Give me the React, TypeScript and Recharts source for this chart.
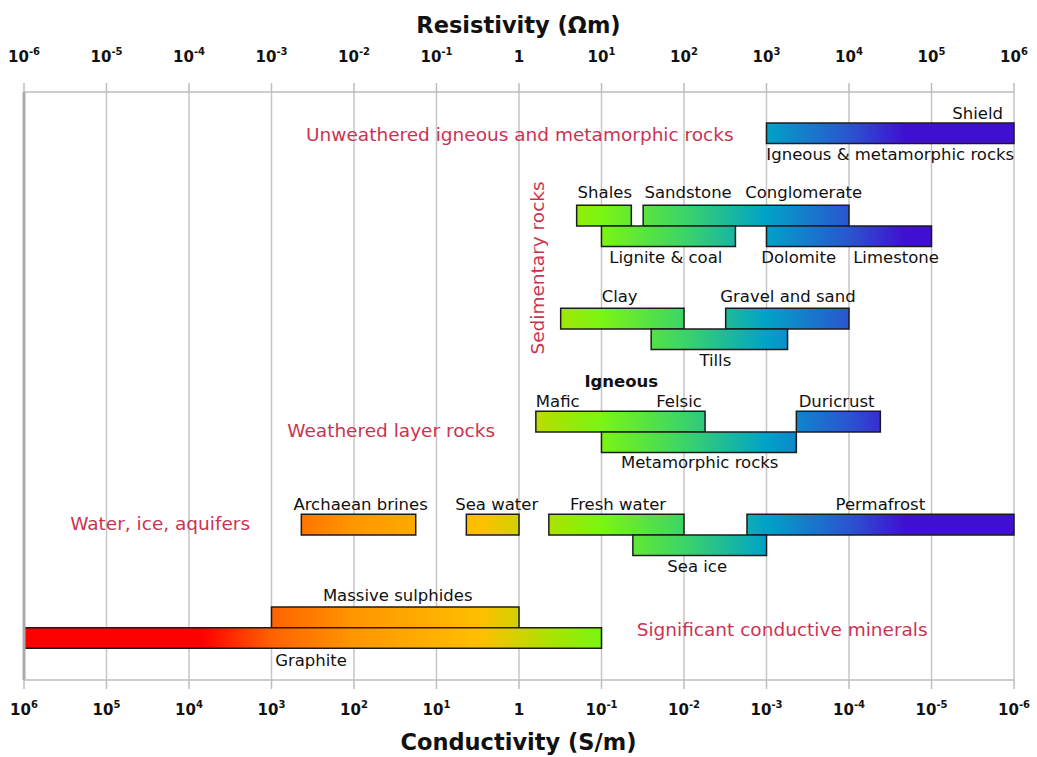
import React from 'react';
import {
  ScatterChart,
  Scatter,
  XAxis,
  YAxis,
  CartesianGrid,
  ReferenceArea,
  ReferenceLine,
} from 'recharts';

// decade exponents of the resistivity axis (Ωm)
const TICKS = [-6, -5, -4, -3, -2, -1, 0, 1, 2, 3, 4, 5, 6];

// resistivity ranges (Ωm), row = which lane of the figure the bar sits in
const ROCK_NAMES = [
  'Shield', 'Shales', 'Sandstone/Conglomerate', 'Lignite & coal', 'Dolomite/Limestone',
  'Clay', 'Gravel and sand', 'Tills', 'Mafic/Felsic', 'Duricrust', 'Metamorphic rocks',
  'Archaean brines', 'Sea water', 'Fresh water', 'Permafrost', 'Sea ice',
  'Massive sulphides', 'Graphite',
];
const RHO_MIN = [1e3, 5, 32, 10, 1e3, 3.2, 320, 40, 1.6, 2300, 10, 0.0023, 0.23, 2.3, 580, 24, 0.001, 1e-6];
const RHO_MAX = [1e6, 23, 1e4, 420, 1e5, 100, 1e4, 1800, 180, 24000, 2300, 0.056, 1, 100, 1e6, 1000, 1, 10];
const ROCK_ROW = [0, 1, 1, 2, 2, 3, 3, 4, 5, 5, 6, 7, 7, 7, 7, 8, 9, 10];

// top of each lane on the hidden y axis (one unit = one bar height)
const ROW_TOP = [1.5, 5.5, 6.5, 10.5, 11.5, 15.5, 16.5, 20.5, 21.5, 25, 26];

// text labels: log10(Ωm) position, lane position, kind
const LABEL_TEXT = [
  'Shield', 'Igneous & metamorphic rocks', 'Shales', 'Sandstone', 'Conglomerate',
  'Lignite & coal', 'Dolomite', 'Limestone', 'Clay', 'Gravel and sand', 'Tills',
  'Igneous', 'Mafic', 'Felsic', 'Duricrust', 'Metamorphic rocks',
  'Archaean brines', 'Sea water', 'Fresh water', 'Permafrost', 'Sea ice',
  'Massive sulphides', 'Graphite',
  'Unweathered igneous and metamorphic rocks', 'Sedimentary rocks',
  'Weathered layer rocks', 'Water, ice, aquifers', 'Significant conductive minerals',
];
const LABEL_X = [
  5.56, 4.5, 1.04, 2.05, 3.45, 1.78, 3.39, 4.57, 1.22, 3.26, 2.38,
  1.24, 0.47, 1.94, 3.85, 2.19, -1.92, -0.27, 1.2, 4.38, 2.16, -1.47, -2.52,
  0.01, 0.22, -1.55, -4.35, 3.19,
];
const LABEL_Y = [
  1.02, 3.01, 4.9, 4.9, 4.9, 8.01, 8.01, 8.01, 9.95, 9.95, 13.01,
  14.03, 15.0, 15.0, 15.0, 17.96, 20.0, 20.0, 20.0, 20.0, 23.01, 24.42, 27.57,
  2.04, 8.54, 16.41, 20.92, 26.07,
];
const LABEL_KIND = [
  'name', 'name', 'name', 'name', 'name', 'name', 'name', 'name', 'name', 'name', 'name',
  'bold', 'name', 'name', 'name', 'name', 'name', 'name', 'name', 'name', 'name', 'name', 'name',
  'group', 'vertical', 'group', 'group', 'group',
];

const GRADIENT_STOPS: [number, string][] = [
  [0, '#ff0000'],
  [0.18, '#ff0000'],
  [0.25, '#ff6200'],
  [0.333, '#ff9600'],
  [0.46, '#ffbf00'],
  [0.5, '#d2d200'],
  [0.53, '#ace200'],
  [0.583, '#7af512'],
  [0.667, '#3cd468'],
  [0.75, '#00a2c8'],
  [0.833, '#2a55d0'],
  [0.89, '#4010d0'],
  [1, '#4010d0'],
];

const bars = ROCK_NAMES.map((name, i) => ({
  name,
  x1: Math.log10(RHO_MIN[i]),
  x2: Math.log10(RHO_MAX[i]),
  y1: ROW_TOP[ROCK_ROW[i]],
  y2: ROW_TOP[ROCK_ROW[i]] + 1,
}));

const labels = LABEL_TEXT.map((text, i) => ({
  text,
  x: LABEL_X[i],
  y: LABEL_Y[i],
  kind: LABEL_KIND[i],
}));

const FONT = '"DejaVu Sans", sans-serif';
const RED = '#cc3352';

const W = 1037;
const H = 757;
const LEFT = 24;
const RIGHT = 23;

function LabelShape(props: any) {
  const { cx, cy, payload } = props;
  if (cx == null || cy == null) return null;
  const kind = payload.kind;
  if (kind === 'vertical') {
    return (
      <text
        x={cx}
        y={cy}
        transform={`rotate(-90 ${cx} ${cy})`}
        textAnchor="middle"
        dominantBaseline="central"
        fontFamily={FONT}
        fontSize={18.5}
        fill={RED}
      >
        {payload.text}
      </text>
    );
  }
  const isGroup = kind === 'group';
  return (
    <text
      x={cx}
      y={cy}
      textAnchor="middle"
      dominantBaseline="central"
      fontFamily={FONT}
      fontSize={isGroup ? 18.5 : 16.5}
      fontWeight={kind === 'bold' ? 'bold' : 'normal'}
      fill={isGroup ? RED : '#111'}
    >
      {payload.text}
    </text>
  );
}

function makeTick(side: 'top' | 'bottom') {
  return function Tick(props: any) {
    const { x, y, payload } = props;
    const e = side === 'top' ? payload.value : -payload.value;
    const dy = side === 'top' ? -19 : 24;
    return (
      <text x={x} y={y + dy} textAnchor="middle" fontFamily={FONT} fontWeight="bold" fontSize={15} fill="#111">
        {e === 0 ? (
          '1'
        ) : (
          <>
            <tspan>10</tspan>
            <tspan dy={-7} fontSize={10}>
              {e}
            </tspan>
          </>
        )}
      </text>
    );
  };
}

const TopTick = makeTick('top');
const BottomTick = makeTick('bottom');

const titleStyle: React.CSSProperties = {
  position: 'absolute',
  left: 0,
  width: W,
  textAlign: 'center',
  fontFamily: FONT,
  fontWeight: 'bold',
  fontSize: 22.5,
  lineHeight: '22px',
  color: '#111',
};

export default function App() {
  return (
    <div style={{ position: 'absolute', left: 0, top: 0, width: W, height: H, background: '#fff' }}>
      <div style={{ ...titleStyle, top: 14 }}>Resistivity (Ωm)</div>
      <div style={{ ...titleStyle, top: 731 }}>Conductivity (S/m)</div>
      <ScatterChart width={W} height={H} margin={{ top: 0, right: RIGHT, bottom: 0, left: LEFT }}>
        <defs>
          <linearGradient id="rhoGrad" gradientUnits="userSpaceOnUse" x1={LEFT} y1={0} x2={W - RIGHT} y2={0}>
            {GRADIENT_STOPS.map(([o, c]) => (
              <stop key={o} offset={o} stopColor={c} />
            ))}
          </linearGradient>
        </defs>
        <CartesianGrid xAxisId="top" yAxisId="y" horizontal={false} stroke="#c6c6c6" strokeWidth={1.5} />
        <XAxis
          xAxisId="top"
          orientation="top"
          type="number"
          dataKey="x"
          domain={[-6, 6]}
          ticks={TICKS}
          interval={0}
          allowDataOverflow
          height={92}
          axisLine={{ stroke: '#bdbdbd', strokeWidth: 1.5 }}
          tickLine={{ stroke: '#bdbdbd', strokeWidth: 1.5 }}
          tickSize={9}
          tick={<TopTick />}
        />
        <XAxis
          xAxisId="bottom"
          orientation="bottom"
          type="number"
          dataKey="x"
          domain={[-6, 6]}
          ticks={TICKS}
          interval={0}
          allowDataOverflow
          height={77}
          axisLine={{ stroke: '#bdbdbd', strokeWidth: 1.5 }}
          tickLine={{ stroke: '#bdbdbd', strokeWidth: 1.5 }}
          tickSize={9}
          tick={<BottomTick />}
        />
        <YAxis yAxisId="y" type="number" dataKey="y" domain={[0, 28.54]} reversed hide allowDataOverflow />
        <ReferenceLine xAxisId="top" yAxisId="y" x={-6} stroke="#aaaaaa" strokeWidth={3} />
        {bars.map((b) => (
          <ReferenceArea
            key={b.name}
            xAxisId="top"
            yAxisId="y"
            x1={b.x1}
            x2={b.x2}
            y1={b.y1}
            y2={b.y2}
            fill="url(#rhoGrad)"
            fillOpacity={1}
            stroke="#1c1c1c"
            strokeWidth={1.5}
          />
        ))}
        <Scatter
          data={labels}
          xAxisId="top"
          yAxisId="y"
          shape={LabelShape}
          isAnimationActive={false}
        />
      </ScatterChart>
    </div>
  );
}
